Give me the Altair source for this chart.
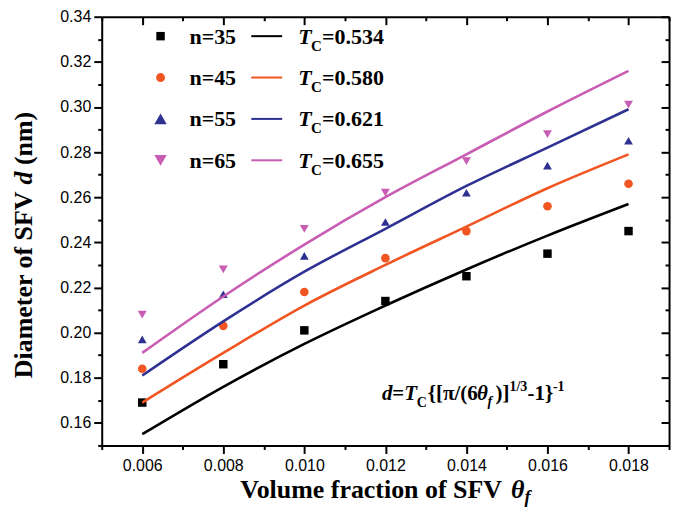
import altair as alt
import pandas as pd

# ---------------- data ----------------
theta = [0.006, 0.008, 0.010, 0.012, 0.014, 0.016, 0.018]
series = ["n=35", "n=45", "n=55", "n=65"]
tc_text = ["=0.534", "=0.580", "=0.621", "=0.655"]
d_n35 = [0.169, 0.186, 0.201, 0.214, 0.225, 0.235, 0.245]
d_n45 = [0.184, 0.203, 0.218, 0.233, 0.245, 0.256, 0.266]
d_n55 = [0.197, 0.217, 0.234, 0.249, 0.262, 0.274, 0.285]
d_n65 = [0.208, 0.228, 0.246, 0.262, 0.276, 0.288, 0.301]
fit_n35 = [0.155, 0.176, 0.195, 0.212, 0.228, 0.243, 0.257]
fit_n45 = [0.169, 0.191, 0.212, 0.230, 0.247, 0.264, 0.279]
fit_n55 = [0.181, 0.205, 0.227, 0.246, 0.265, 0.282, 0.299]
fit_n65 = [0.191, 0.216, 0.239, 0.260, 0.279, 0.298, 0.316]
x_ticks = [0.005, 0.006, 0.007, 0.008, 0.009, 0.010, 0.011, 0.012,
           0.013, 0.014, 0.015, 0.016, 0.017, 0.018, 0.019]
y_ticks = [0.15, 0.16, 0.17, 0.18, 0.19, 0.20, 0.21, 0.22, 0.23, 0.24,
           0.25, 0.26, 0.27, 0.28, 0.29, 0.30, 0.31, 0.32, 0.33, 0.34]

colors = ["#000000", "#F05522", "#2E3192", "#C95DB3"]
shapes = ["square", "circle", "triangle-up", "triangle-down"]
sizes = [72, 80, 155, 155]

pts = []
fits = []
for s, dv, fv in zip(series, [d_n35, d_n45, d_n55, d_n65],
                     [fit_n35, fit_n45, fit_n55, fit_n65]):
    for t, a, b in zip(theta, dv, fv):
        pts.append({"theta": t, "d": a, "series": s})
        fits.append({"theta": t, "d": b, "series": s})
pts = pd.DataFrame(pts)
fits = pd.DataFrame(fits)

W, H = 569, 430
SERIF = "Liberation Serif"
SANS = "Liberation Sans"

xscale = alt.Scale(domain=[0.005, 0.019], nice=False, zero=False)
yscale = alt.Scale(domain=[0.15, 0.34], nice=False, zero=False)
cscale = alt.Scale(domain=series, range=colors)

x_major = "round(datum.value*1000) % 2 == 0"
y_major = "round(datum.value*100) % 2 == 0"


def xaxis(**kw):
    return alt.Axis(values=x_ticks, grid=False, title=None,
                    tickSize={"condition": {"test": x_major, "value": 8}, "value": 4},
                    labelOverlap=False, labelFlush=False, **kw)


def yaxis(**kw):
    return alt.Axis(values=y_ticks, grid=False, title=None,
                    tickSize={"condition": {"test": y_major, "value": 8}, "value": 4},
                    labelOverlap=False, labelFlush=False, **kw)


points = alt.Chart(pts).mark_point(filled=True, opacity=1).encode(
    x=alt.X("theta:Q", scale=xscale,
            axis=xaxis(orient="bottom", offset=-H, labels=False)),
    y=alt.Y("d:Q", scale=yscale,
            axis=yaxis(orient="left", offset=-W, labels=False)),
    color=alt.Color("series:N", scale=cscale, legend=None),
    shape=alt.Shape("series:N", scale=alt.Scale(domain=series, range=shapes), legend=None),
    size=alt.Size("series:N", scale=alt.Scale(domain=series, range=sizes), legend=None),
)

lines = alt.Chart(fits).mark_line(strokeWidth=2.6, interpolate="monotone").encode(
    x=alt.X("theta:Q", scale=xscale,
            axis=xaxis(orient="bottom",
                       labelExpr=x_major + " ? format(datum.value, '.3f') : ''",
                       labelPadding=4)),
    y=alt.Y("d:Q", scale=yscale,
            axis=yaxis(orient="left",
                       labelExpr=y_major + " ? format(datum.value, '.2f') : ''",
                       labelPadding=3)),
    color=alt.Color("series:N", scale=cscale, legend=None),
    detail="series:N",
)


def txt(s, x, y, size, style="normal", angle=0, color="#000000"):
    return alt.Chart(pd.DataFrame({"t": [s]})).mark_text(
        font=SERIF, fontSize=size, fontWeight="bold", fontStyle=style,
        align="left", baseline="alphabetic", angle=angle, color=color,
    ).encode(x=alt.value(x), y=alt.value(y), text="t:N")


deco = []
# legend (layout only)
row0, step = 19.5, 41.5
for i, s in enumerate(series):
    cy = row0 + i * step
    deco.append(alt.Chart(pd.DataFrame({"k": [s]})).mark_point(
        filled=True, opacity=1, shape=shapes[i], size=sizes[i], color=colors[i]
    ).encode(x=alt.value(59), y=alt.value(cy)))
    deco.append(alt.Chart(pd.DataFrame({"k": [s]})).mark_rule(
        strokeWidth=2, color=colors[i]
    ).encode(x=alt.value(150), x2=alt.value(181), y=alt.value(cy)))
    deco.append(txt(s, 88, cy + 7.5, 22))
    deco.append(txt("T", 197, cy + 7.5, 22, "italic"))
    deco.append(txt("C", 210, cy + 14.5, 15))
    deco.append(txt(tc_text[i], 221, cy + 7.5, 22))

# formula annotation
by = 384
for s, x, dy, size, style in [
    ("d", 281, 0, 21, "italic"),
    ("=", 291.5, 0, 21, "normal"),
    ("T", 303.5, 0, 21, "italic"),
    ("C", 316, 7, 14, "normal"),
    ("{[\u03c0/(6", 327, 0, 21, "normal"),
    ("\u03b8", 376.5, 0, 21, "italic"),
    ("f", 387, 6, 14, "italic"),
    (")]", 395, 0, 21, "normal"),
    ("1/3", 409, -9, 14, "normal"),
    ("-1}", 427, 0, 21, "normal"),
    ("-1", 452.5, -9, 14, "normal"),
]:
    deco.append(txt(s, x, by + dy, size, style))

# axis titles
deco.append(txt("Volume fraction of SFV", 139, 483, 26))
deco.append(txt("\u03b8", 410.5, 483, 26, "italic"))
deco.append(txt("f", 424, 488, 18, "italic"))
deco.append(txt("Diameter of SFV", -70, 362.5, 26, angle=270))
deco.append(txt("d", -70, 168.3, 26, "italic", angle=270))
deco.append(txt("(nm)", -70, 148.8, 26, angle=270))

chart = alt.layer(points, lines, *deco).resolve_axis(
    x="independent", y="independent"
).properties(
    width=W, height=H,
    autosize=alt.AutoSizeParams(type="none"),
    padding={"left": 94, "top": 8, "right": 15, "bottom": 63},
    background="#ffffff",
).configure_view(stroke=None).configure_axis(
    labelFont=SANS, labelFontSize=16, labelColor="#000000",
    tickColor="#000000", tickWidth=2, domainColor="#000000", domainWidth=2,
)

chart.save("out.html", embed_options={"renderer": "svg", "actions": False})
